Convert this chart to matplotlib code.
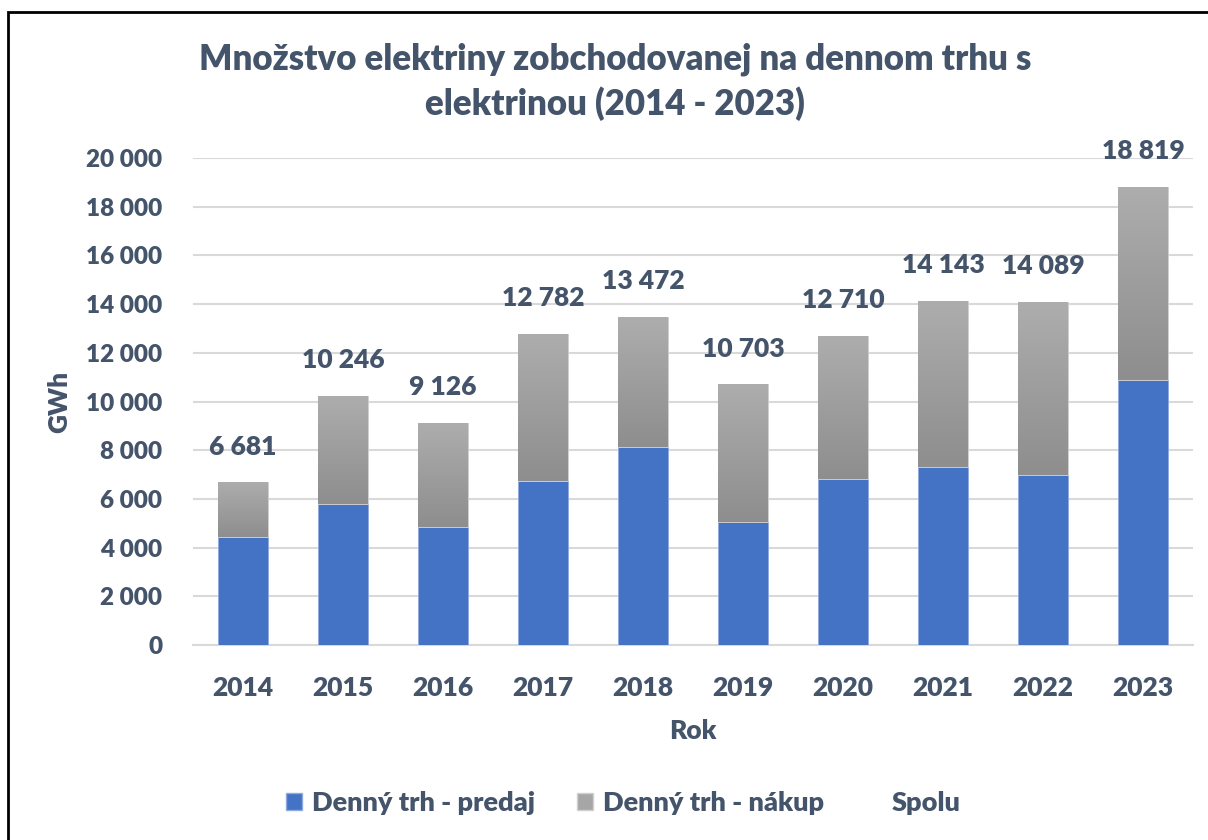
import numpy as np
import matplotlib; matplotlib.use("Agg")
import matplotlib.pyplot as plt
from matplotlib.patches import Patch, Rectangle
from matplotlib.colors import LinearSegmentedColormap

years = ["2014", "2015", "2016", "2017", "2018", "2019", "2020", "2021", "2022", "2023"]
spolu = [6681, 10246, 9126, 12782, 13472, 10703, 12710, 14143, 14089, 18819]
predaj = [4416, 5774, 4827, 6737, 8148, 5033, 6831, 7313, 6996, 10893]
nakup = [s - p for s, p in zip(spolu, predaj)]

TXT = "#44546A"
BLUE = "#4472C4"
W = "heavy"
plt.rcParams.update({"font.family": ["Lato", "DejaVu Sans"], "font.weight": W})

fig = plt.figure(figsize=(12.08, 8.4), dpi=100)
ax = fig.add_axes([0.1598, 0.2321, 0.8278, 0.5798])

x = np.arange(len(years))
w = 0.5
b1 = ax.bar(x, predaj, w, color=BLUE, edgecolor="#8FAADC", linewidth=0.6, zorder=3)
b2 = ax.bar(x, nakup, w, bottom=predaj, color="#a6a6a6", edgecolor="#d0d0d0", linewidth=0.6, zorder=3)

# vertical gray gradient inside the "nákup" segments
grad = LinearSegmentedColormap.from_list("g", ["#8e8e8e", "#adadad"])
gvals = np.linspace(0, 1, 64).reshape(-1, 1)
for r in b2:
    x0, y0, bw, bh = r.get_x(), r.get_y(), r.get_width(), r.get_height()
    im = ax.imshow(gvals, cmap=grad, origin="lower", aspect="auto",
                   extent=(x0, x0 + bw, y0, y0 + bh), zorder=3.5)
    im.set_clip_path(r)

for xi, s in zip(x, spolu):
    ax.annotate(f"{s:,}".replace(",", " "), (xi, s), xytext=(0, 17), textcoords="offset points",
                ha="center", va="bottom", fontsize=19, color=TXT, fontweight=W)

ax.set_xlim(-0.5, len(years) - 0.5)
ax.set_ylim(0, 20000)
ax.set_yticks(range(0, 20001, 2000))
ax.set_yticklabels([f"{v:,}".replace(",", " ") for v in range(0, 20001, 2000)])
ax.set_xticks(x); ax.set_xticklabels(years)
ax.tick_params(length=0, labelcolor=TXT)
ax.tick_params(axis="x", labelsize=19, pad=22)
ax.tick_params(axis="y", labelsize=17.5, pad=22)
for s in ("top", "right", "left"):
    ax.spines[s].set_visible(False)
ax.spines["bottom"].set_color("#D9D9D9"); ax.spines["bottom"].set_linewidth(1.5)
ax.grid(axis="y", color="#D9D9D9", linewidth=1.5, zorder=0)
ax.set_axisbelow(True)
ax.set_xlabel("Rok", fontsize=19, color=TXT, fontweight=W, labelpad=14)
ax.set_ylabel("GWh", fontsize=19, color=TXT, fontweight=W)
ax.yaxis.set_label_coords(-0.122, 0.5)

fig.text(0.509, 0.903, "Množstvo elektriny zobchodovanej na dennom trhu s\nelektrinou (2014 - 2023)",
         ha="center", va="center", fontsize=25, color=TXT, fontweight=W, linespacing=1.35)

handles = [Patch(facecolor=BLUE, edgecolor="#8FAADC", label="Denný trh - predaj"),
           Patch(facecolor="#a6a6a6", edgecolor="#d0d0d0", label="Denný trh - nákup"),
           Patch(facecolor="none", edgecolor="none", label="Spolu")]
fig.legend(handles=handles, loc="center", bbox_to_anchor=(0.516, 0.044), ncol=3, frameon=False,
           fontsize=19.5, labelcolor=TXT, handlelength=0.6, handleheight=0.6, handletextpad=0.35,
           columnspacing=1.55)

fig.patches.append(Rectangle((8 / 1208, -0.1), 1.2, 1.1 - 12 / 840, transform=fig.transFigure,
                             fill=False, edgecolor="black", linewidth=2, zorder=10))
fig.savefig("out.png", dpi=100)
